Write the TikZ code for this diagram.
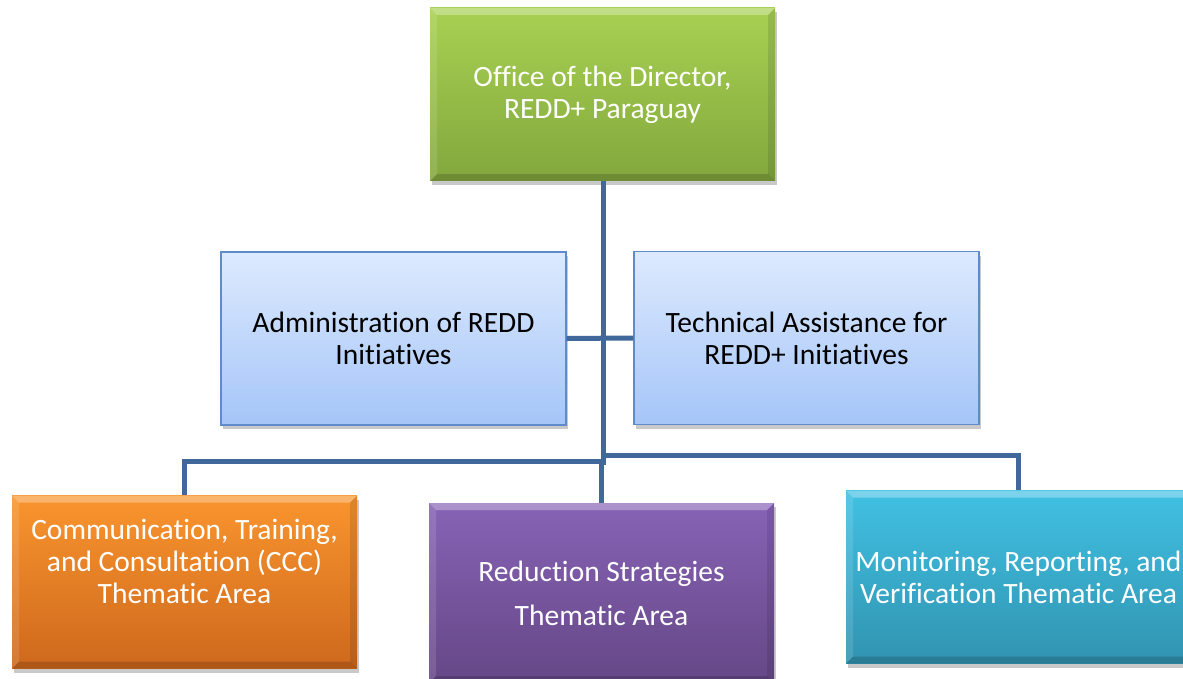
\documentclass[tikz,border=0pt]{standalone}
\usepackage{fontspec}
\setmainfont{Carlito}[Ligatures=NoCommon]
\usetikzlibrary{shadows}

% colours of the chart
\definecolor{linkblue}{HTML}{41689A}
\definecolor{dirtop}{HTML}{A8D152}
\definecolor{dirbot}{HTML}{83A73D}
\definecolor{unittop}{HTML}{DDEAFE}
\definecolor{unitbot}{HTML}{A5C5F8}
\definecolor{unitline}{HTML}{5E8CCB}
\definecolor{ccctop}{HTML}{F9952E}
\definecolor{cccbot}{HTML}{CE681D}
\definecolor{redtop}{HTML}{8863B6}
\definecolor{redbot}{HTML}{654786}
\definecolor{mrvtop}{HTML}{41C1E3}
\definecolor{mrvbot}{HTML}{3193B0}

\tikzset{
    % raised edge strips inside a box
    bevel/.style={path picture={
        \fill[white,opacity=0.3] (path picture bounding box.north west) -- (path picture bounding box.north east)
            -- ([shift={(-#1,-#1)}]path picture bounding box.north east) -- ([shift={(#1,-#1)}]path picture bounding box.north west) -- cycle;
        \fill[white,opacity=0.12] (path picture bounding box.north west) -- ([shift={(#1,-#1)}]path picture bounding box.north west)
            -- ([shift={(#1,#1)}]path picture bounding box.south west) -- (path picture bounding box.south west) -- cycle;
        \fill[black,opacity=0.16] (path picture bounding box.south west) -- ([shift={(#1,#1)}]path picture bounding box.south west)
            -- ([shift={(-#1,#1)}]path picture bounding box.south east) -- (path picture bounding box.south east) -- cycle;
        \fill[black,opacity=0.1] (path picture bounding box.north east) -- ([shift={(-#1,-#1)}]path picture bounding box.north east)
            -- ([shift={(-#1,#1)}]path picture bounding box.south east) -- (path picture bounding box.south east) -- cycle;
    }},
    orgbox/.style={
        rectangle,
        minimum width=345pt,
        minimum height=173pt,
        inner sep=0pt,
        align=center,
        font=\fontsize{29.5}{32}\selectfont,
        drop shadow={shadow xshift=2pt, shadow yshift=-4pt, opacity=0.3, fill=black!70}
    },
    headbox/.style={orgbox, text=white, bevel=7pt},
    unitbox/.style={orgbox, draw=unitline, line width=1.2pt, top color=unittop, bottom color=unitbot, text=black},
    link/.style={draw=linkblue, line width=5pt}
}

\begin{document}
\begin{tikzpicture}[x=1pt, y=-1pt]
    \useasboundingbox (0,0) rectangle (1183,679);

    % --- director ---
    \node[headbox, top color=dirtop, bottom color=dirbot] (director) at (602.5,94.5)
        {Office of the Director,\\ REDD+ Paraguay};

    % --- support units ---
    \node[unitbox] (admin) at (393.5,338.5) {Administration of REDD\\ Initiatives};
    \node[unitbox] (tech) at (806.5,338) {Technical Assistance for\\ REDD+ Initiatives};

    % --- thematic areas ---
    \node[headbox, top color=ccctop, bottom color=cccbot] (ccc) at (184.5,582)
        {Communication, Training,\\ and Consultation (CCC)\\ Thematic Area\\[10pt]\mbox{}};
    \node[headbox, top color=redtop, bottom color=redbot, minimum height=180pt] (reduction) at (601.5,593)
        {Reduction Strategies\\[12pt] Thematic Area};
    \node[headbox, top color=mrvtop, bottom color=mrvbot] (mrv) at (1018.5,577)
        {Monitoring, Reporting, and\\ Verification Thematic Area};

    % --- branch points ---
    \coordinate (trunk) at (603,465);
    \coordinate (forkL) at (603,461);
    \coordinate (forkR) at (603,455);

    % --- connectors ---
    \draw[link] (director.south -| trunk) -- (trunk);
    \draw[link] (admin.east) -- (tech.west);
    \draw[link] (forkL) -| (ccc.north);
    \draw[link] (forkR) -| (mrv.north);
    \draw[link] (601,463) -- (reduction.north -| 601,0);
\end{tikzpicture}
\end{document}
